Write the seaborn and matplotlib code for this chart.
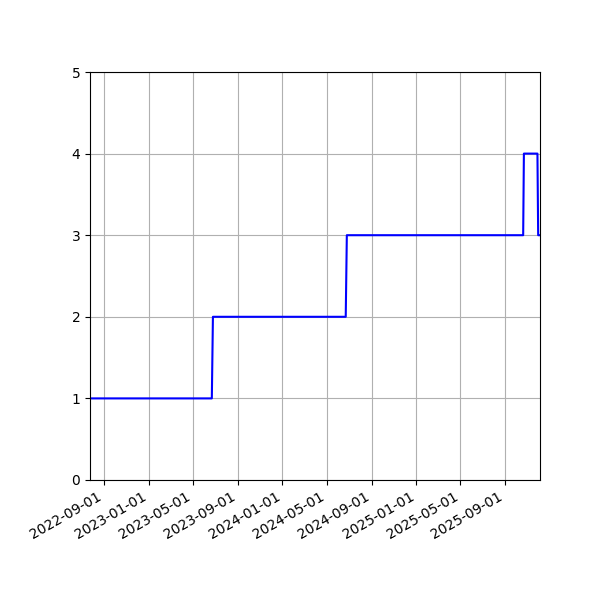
import matplotlib
matplotlib.use("Agg")
import matplotlib.dates as mdates
import matplotlib.pyplot as plt
import pandas as pd
import seaborn as sns

# breakpoints of the level series (last day of old level, first day of new level)
DATES = [
    "2022-07-24", "2023-06-22", "2023-06-25",
    "2024-06-22", "2024-06-25",
    "2025-10-20", "2025-10-22",
    "2025-11-28", "2025-11-30", "2025-12-05",
]
LEVELS = [1, 1, 2, 2, 3, 3, 4, 4, 3, 3]
X_TICKS = ["2022-09-01", "2023-01-01", "2023-05-01", "2023-09-01", "2024-01-01",
           "2024-05-01", "2024-09-01", "2025-01-01", "2025-05-01", "2025-09-01"]


def main() -> None:
    df = pd.DataFrame({"date": pd.to_datetime(DATES), "level": LEVELS})

    fig, ax = plt.subplots(figsize=(6, 6), dpi=100)
    sns.lineplot(data=df, x="date", y="level", ax=ax, color="blue",
                 linewidth=1.5, estimator=None, sort=False)
    ax.set_xlim(df["date"].min(), df["date"].max())
    ax.set_ylim(0, 5)
    ax.set_xticks(pd.to_datetime(X_TICKS))
    ax.xaxis.set_major_formatter(mdates.DateFormatter("%Y-%m-%d"))
    ax.set_xlabel("")
    ax.set_ylabel("")
    ax.grid(True, color="#b0b0b0", linewidth=0.8)
    fig.autofmt_xdate()
    fig.subplots_adjust(left=0.15, right=0.9, top=0.88, bottom=0.2)
    fig.savefig("out.png", dpi=100)
    plt.close(fig)


if __name__ == "__main__":
    main()
